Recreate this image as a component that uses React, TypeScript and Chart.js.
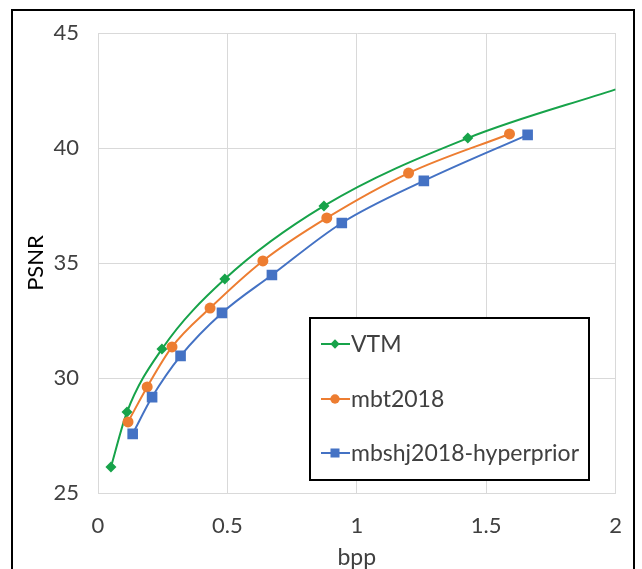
import React, { useEffect, useRef } from "react";
import { Chart, registerables } from "chart.js";

Chart.register(...registerables);

const vtmBpp = [0.05, 0.112, 0.247, 0.49, 0.873, 1.429, 2.0];
const vtmPsnr = [26.13, 28.52, 31.26, 34.3, 37.48, 40.43, 42.55];
const mbtBpp = [0.116, 0.19, 0.286, 0.433, 0.637, 0.884, 1.2, 1.59];
const mbtPsnr = [28.09, 29.61, 31.35, 33.04, 35.09, 36.96, 38.91, 40.61];
const hypBpp = [0.134, 0.209, 0.319, 0.479, 0.672, 0.942, 1.259, 1.66];
const hypPsnr = [27.57, 29.17, 30.96, 32.83, 34.48, 36.74, 38.57, 40.57];

const seriesNames = ["VTM", "mbt2018", "mbshj2018-hyperprior"];
const seriesColors = ["#17A34A", "#ED7D31", "#4472C4"];
const seriesPointStyles = ["rectRot", "circle", "rect"];
const seriesRadius = [5.5, 5.5, 7.5];

const xTicks = [0, 0.5, 1, 1.5, 2];
const yTicks = [25, 30, 35, 40, 45];

const FONT = "Lato, 'Noto Sans', sans-serif";

const toPoints = (xs: number[], ys: number[]) => xs.map((x, i) => ({ x, y: ys[i] }));

const framePlugin = {
  id: "frame",
  beforeDraw(chart: any) {
    const ctx = chart.ctx;
    ctx.save();
    ctx.fillStyle = "#ffffff";
    ctx.fillRect(0, 0, chart.width, chart.height);
    ctx.strokeStyle = "#000000";
    ctx.lineWidth = 2;
    ctx.beginPath();
    ctx.moveTo(12, chart.height + 2);
    ctx.lineTo(12, 10);
    ctx.lineTo(634, 10);
    ctx.lineTo(634, chart.height + 2);
    ctx.stroke();
    ctx.restore();
  },
};

function drawMarker(ctx: CanvasRenderingContext2D, style: string, x: number, y: number, r: number) {
  ctx.beginPath();
  if (style === "circle") {
    ctx.arc(x, y, r, 0, Math.PI * 2);
  } else if (style === "rect") {
    const s = r * Math.SQRT1_2;
    ctx.rect(x - s, y - s, 2 * s, 2 * s);
  } else {
    ctx.moveTo(x, y - r);
    ctx.lineTo(x + r, y);
    ctx.lineTo(x, y + r);
    ctx.lineTo(x - r, y);
    ctx.closePath();
  }
  ctx.fill();
}

const legendPlugin = {
  id: "boxLegend",
  afterDraw(chart: any) {
    const ctx = chart.ctx;
    const bx = 310, by = 318, bw = 279, bh = 162;
    ctx.save();
    ctx.fillStyle = "#ffffff";
    ctx.fillRect(bx, by, bw, bh);
    ctx.strokeStyle = "#000000";
    ctx.lineWidth = 2;
    ctx.strokeRect(bx, by, bw, bh);
    const rows = [344, 399, 453];
    seriesNames.forEach((name, i) => {
      const y = rows[i];
      ctx.strokeStyle = seriesColors[i];
      ctx.lineWidth = 2;
      ctx.beginPath();
      ctx.moveTo(321, y);
      ctx.lineTo(350, y);
      ctx.stroke();
      ctx.fillStyle = seriesColors[i];
      drawMarker(ctx, seriesPointStyles[i], 335, y, seriesRadius[i] * 0.85);
      ctx.fillStyle = "#404040";
      ctx.font = `23px ${FONT}`;
      ctx.textBaseline = "middle";
      ctx.textAlign = "left";
      ctx.fillText(name, 351, y + 1);
    });
    ctx.restore();
  },
};

export default function App() {
  const ref = useRef<HTMLCanvasElement | null>(null);
  useEffect(() => {
    document.body.style.margin = "0";
    if (!ref.current) return;
    const mk = (i: number, xs: number[], ys: number[]) => ({
      label: seriesNames[i],
      data: toPoints(xs, ys),
      borderColor: seriesColors[i],
      backgroundColor: seriesColors[i],
      borderWidth: 2,
      pointStyle: seriesPointStyles[i],
      pointRadius: xs.map((x) => (x >= 2 ? 0 : seriesRadius[i])),
      pointBorderWidth: 0,
      tension: 0.4,
      cubicInterpolationMode: "monotone",
      showLine: true,
      order: 3 - i,
    });
    const chart = new Chart(ref.current, {
      type: "scatter",
      data: {
        datasets: [
          mk(0, vtmBpp, vtmPsnr),
          mk(1, mbtBpp, mbtPsnr),
          mk(2, hypBpp, hypPsnr),
        ] as any,
      },
      options: {
        animation: false,
        responsive: false,
        devicePixelRatio: 1,
        layout: { padding: { left: 0, top: 33, right: 26, bottom: 0 } },
        plugins: { legend: { display: false }, tooltip: { enabled: false } },
        scales: {
          x: {
            type: "linear",
            min: 0,
            max: 2,
            afterBuildTicks: (s: any) => {
              s.ticks = xTicks.map((v) => ({ value: v }));
            },
            afterFit: (s: any) => {
              s.height = 76;
            },
            grid: { color: "#d9d9d9", drawTicks: false, lineWidth: 1 },
            border: { color: "#d9d9d9" },
            ticks: {
              padding: 20,
              color: "#404040",
              font: { family: FONT, size: 22 },
              maxRotation: 0,
              callback: (v: any) => String(v),
            },
            title: {
              display: true,
              text: "bpp",
              color: "#404040",
              font: { family: FONT, size: 23 },
              padding: { top: 0, bottom: -2 },
            },
          },
          y: {
            type: "linear",
            min: 25,
            max: 45,
            afterBuildTicks: (s: any) => {
              s.ticks = yTicks.map((v) => ({ value: v }));
            },
            afterFit: (s: any) => {
              s.width = 98;
            },
            grid: { color: "#d9d9d9", drawTicks: false, lineWidth: 1 },
            border: { color: "#d9d9d9" },
            ticks: {
              padding: 19,
              color: "#404040",
              font: { family: FONT, size: 22 },
              callback: (v: any) => String(v),
            },
            title: {
              display: true,
              text: "PSNR",
              color: "#000000",
              font: { family: FONT, size: 22 },
              padding: { top: 23, bottom: 0 },
            },
          },
        },
      } as any,
      plugins: [framePlugin, legendPlugin],
    });
    return () => chart.destroy();
  }, []);
  return (
    <div style={{ position: "absolute", left: 0, top: 0, width: 642, height: 569 }}>
      <canvas ref={ref} width={642} height={569} style={{ width: 642, height: 569, display: "block" }} />
    </div>
  );
}
